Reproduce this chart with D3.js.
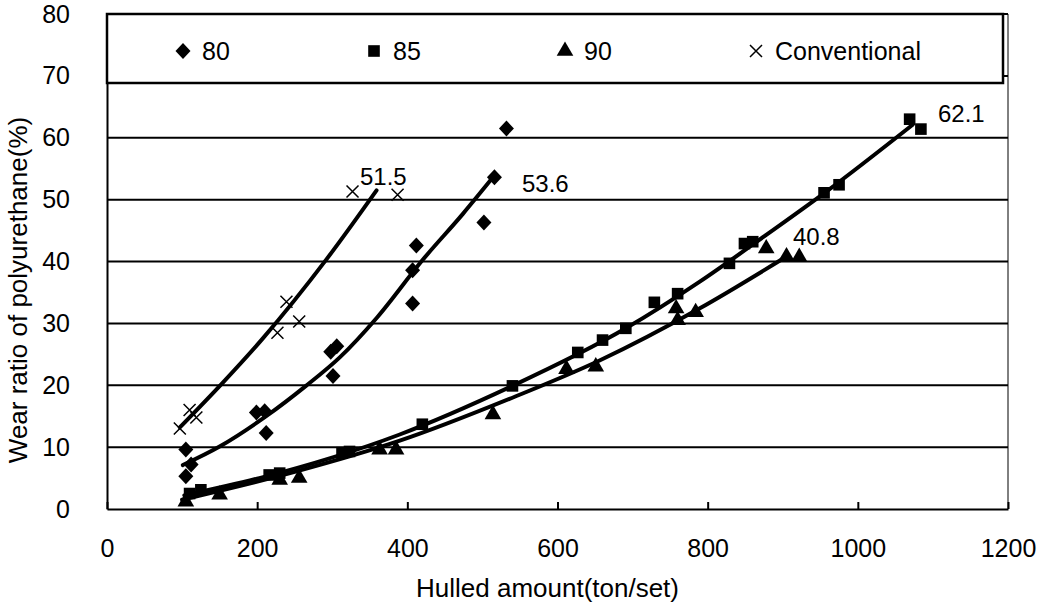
<!DOCTYPE html>
<html>
<head>
<meta charset="utf-8">
<script src="https://cdn.jsdelivr.net/npm/d3@7"></script>
<style>
  body { margin: 0; background: #fff; }
  text { font-family: "Liberation Sans", Arial, sans-serif; fill: #000; }
  .axis path, .axis line { stroke: #000; stroke-width: 2; }
</style>
</head>
<body>
<div id="chart"></div>
<script>
// series: hulled amount (ton/set) and wear ratio (%)
var hulled80 = [105, 105, 112, 199, 210, 212, 298, 301, 306, 407, 407, 412, 502, 516, 532];
var wear80   = [5.3, 9.6, 7.2, 15.6, 15.8, 12.3, 25.4, 21.5, 26.3, 33.2, 38.6, 42.6, 46.3, 53.6, 61.5];

var hulled85 = [110, 125, 216, 230, 313, 323, 420, 540, 627, 660, 691, 729, 760, 829, 849, 860, 955, 975, 1069, 1084];
var wear85   = [2.5, 3.1, 5.5, 5.8, 9.1, 9.3, 13.7, 19.9, 25.3, 27.3, 29.2, 33.4, 34.8, 39.7, 42.9, 43.2, 51.1, 52.4, 63.0, 61.4];

var hulled90 = [105, 150, 230, 256, 363, 385, 514, 612, 651, 758, 760, 784, 878, 905, 922];
var wear90   = [1.2, 2.3, 4.7, 5.0, 9.6, 9.6, 15.3, 22.6, 23.0, 32.4, 30.5, 31.8, 42.1, 40.8, 40.7];

var hulledConv = [97, 110, 119, 227, 239, 256, 327, 387];
var wearConv   = [13.0, 16.0, 14.8, 28.5, 33.5, 30.3, 51.3, 50.8];

// trend lines
var trend80x   = [101, 150, 212, 265, 310, 360, 420, 474, 514];
var trend80y   = [7.1, 10.1, 15.0, 19.9, 24.5, 31.0, 40.2, 47.7, 53.6];
var trend85x   = [103, 203, 389, 540, 691, 789, 878, 958, 1073];
var trend85y   = [2.2, 5.0, 12.0, 19.9, 29.2, 36.7, 44.3, 51.3, 62.1];
var trend90x   = [100, 250, 389, 536, 656, 789, 905];
var trend90y   = [1.5, 6.0, 11.0, 17.8, 24.0, 32.4, 40.8];
var trendConvx = [97, 154, 207, 292, 359];
var trendConvy = [13.2, 20.4, 27.5, 40.3, 51.5];

var seriesNames = ["80", "85", "90", "Conventional"];
var endLabels = ["53.6", "62.1", "40.8", "51.5"];
var xTicks = [0, 200, 400, 600, 800, 1000, 1200];
var yTicks = [0, 10, 20, 30, 40, 50, 60, 70, 80];

function zip(a, b) { return a.map(function(v, i) { return [v, b[i]]; }); }

var width = 1045, height = 605;
var margin = {top: 14, right: 37, bottom: 96, left: 107};
var w = width - margin.left - margin.right,
    h = height - margin.top - margin.bottom;

var svg = d3.select("#chart").append("svg")
  .attr("width", width)
  .attr("height", height)
  .append("g")
  .attr("transform", "translate(" + margin.left + "," + margin.top + ")");

var x = d3.scaleLinear().domain([0, 1200]).range([0, w]);
var y = d3.scaleLinear().domain([0, 80]).range([h, 0]);

// gridlines
svg.selectAll(".grid")
  .data(yTicks.slice(1))
  .enter().append("line")
  .attr("x1", 0).attr("x2", w)
  .attr("y1", d => y(d)).attr("y2", d => y(d))
  .attr("stroke", "#000").attr("stroke-width", 2);

// right border
svg.append("line")
  .attr("x1", w).attr("x2", w).attr("y1", 0).attr("y2", h)
  .attr("stroke", "#000").attr("stroke-width", 1);

var xAxis = d3.axisBottom(x).tickValues(xTicks).tickFormat(d3.format("d"))
  .tickSize(-7).tickPadding(30).tickSizeOuter(0);
var yAxis = d3.axisLeft(y).tickValues(yTicks).tickSize(0).tickPadding(37);

svg.append("g")
  .attr("class", "x axis")
  .attr("transform", "translate(0," + h + ")")
  .call(xAxis)
  .selectAll("text").style("font-size", "25px");

svg.append("g")
  .attr("class", "y axis")
  .call(yAxis)
  .selectAll("text").style("font-size", "25px");

// trend lines
var line = d3.line()
  .x(d => x(d[0]))
  .y(d => y(d[1]))
  .curve(d3.curveMonotoneX);

var trends = [zip(trend80x, trend80y), zip(trend85x, trend85y), zip(trend90x, trend90y), zip(trendConvx, trendConvy)];
svg.selectAll(".trend")
  .data(trends)
  .enter().append("path")
  .attr("class", "trend")
  .attr("d", line)
  .attr("fill", "none")
  .attr("stroke", "#000")
  .attr("stroke-width", 4)
  .attr("stroke-linecap", "round");

// markers
function marker(sel, i) {
  var p = sel.append("path").attr("fill", "#000");
  if (i === 0) p.attr("d", "M0,-8L7.5,0L0,8L-7.5,0Z");
  else if (i === 1) p.attr("d", d3.symbol().type(d3.symbolSquare).size(135));
  else if (i === 2) p.attr("d", d3.symbol().type(d3.symbolTriangle).size(120));
  else p.attr("d", "M-6,-6L6,6M-6,6L6,-6")
        .attr("stroke", "#000").attr("stroke-width", 1.5).attr("fill", "none");
}

var points = [zip(hulled80, wear80), zip(hulled85, wear85), zip(hulled90, wear90), zip(hulledConv, wearConv)];
points.forEach(function(data, i) {
  svg.selectAll(".pt" + i)
    .data(data)
    .enter().append("g")
    .attr("class", "pt" + i)
    .attr("transform", d => "translate(" + x(d[0]) + "," + y(d[1]) + ")")
    .each(function() { marker(d3.select(this), i); });
});

// end value labels
var labelPos = [[522, 184], [938, 114], [793, 237], [360, 177]];
endLabels.forEach(function(t, i) {
  svg.append("text")
    .attr("x", labelPos[i][0] - margin.left)
    .attr("y", labelPos[i][1] - margin.top)
    .attr("dy", "0.35em")
    .style("font-size", "24px")
    .text(t);
});

// legend
var legend = svg.append("g");
legend.append("rect")
  .attr("x", 0).attr("y", 0)
  .attr("width", 896).attr("height", 69)
  .attr("fill", "#fff").attr("stroke", "#000").attr("stroke-width", 2.5);

seriesNames.forEach(function(name, i) {
  var g = legend.append("g")
    .attr("transform", "translate(" + (76 + i * 191) + ",37)");
  marker(g, i);
  g.append("text")
    .attr("x", 19)
    .attr("dy", "0.35em")
    .style("font-size", "25px")
    .text(name);
});

// axis titles
svg.append("text")
  .attr("x", w / 2 - 10)
  .attr("y", h + 88)
  .attr("text-anchor", "middle")
  .style("font-size", "26px")
  .text("Hulled amount(ton/set)");

svg.append("text")
  .attr("transform", "translate(" + (-80) + "," + (290 - margin.top) + ") rotate(-90)")
  .attr("text-anchor", "middle")
  .style("font-size", "26px")
  .text("Wear ratio of polyurethane(%)");
</script>
</body>
</html>
